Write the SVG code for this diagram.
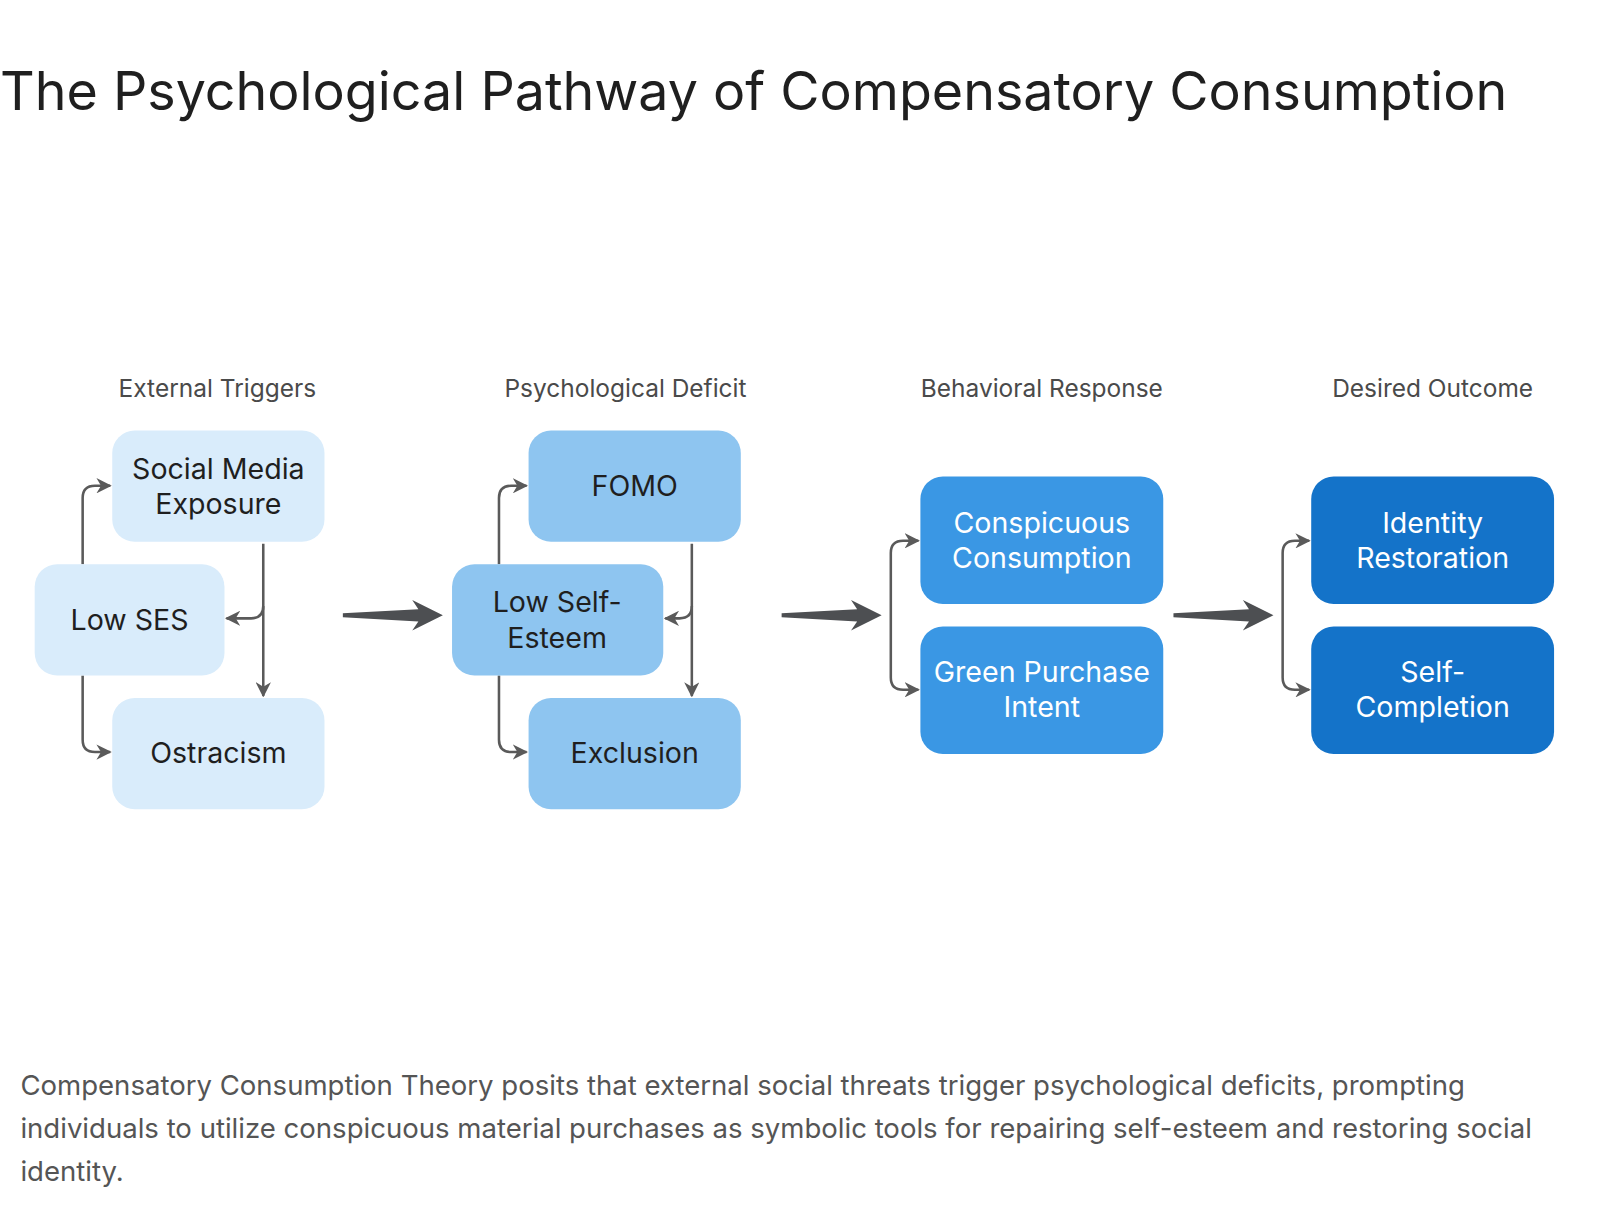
<svg xmlns="http://www.w3.org/2000/svg" width="1600" height="1206" viewBox="0 0 1600 1206">
<defs>
<style>
text{font-family:Inter,"Noto Sans","Liberation Sans",sans-serif}
.t{font-size:52.7px;fill:#1f1f1f}
.h{font-size:24px;fill:#4a4a4a;text-anchor:middle}
.n{font-size:28px;text-anchor:middle}
.d{fill:#1f1f1f}.w{fill:#fff}
.c{font-size:27px;fill:#555}
.l{fill:none;stroke:#5a5a5a;stroke-width:2.5}
.big{fill:#4d4f52}
</style>
<marker id="a" viewBox="0 0 10 10" refX="9" refY="5" markerWidth="6" markerHeight="6" orient="auto-start-reverse"><path d="M0,0 L10,5 L0,10 L3,5z" fill="#5a5a5a"/></marker>
</defs>
<rect width="1600" height="1206" fill="#fff"/>
<g transform="scale(1.0204)">
<text class="t" x="0" y="108">The Psychological Pathway of Compensatory Consumption</text>
<text class="h" x="213" y="389">External Triggers</text>
<text class="h" x="613" y="389">Psychological Deficit</text>
<text class="h" x="1021" y="389">Behavioral Response</text>
<text class="h" x="1404" y="389">Desired Outcome</text>
<g id="connectors">
<path class="l" d="M81,553 V488 Q81,476 93,476 H108" marker-end="url(#a)"/>
<path class="l" d="M81,662 V725 Q81,737 93,737 H108" marker-end="url(#a)"/>
<path class="l" d="M258,533 V594 Q258,606 246,606 H222" marker-end="url(#a)"/>
<path class="l" d="M258,594 Q258,606 258,618 V682" marker-end="url(#a)"/>
<path class="l" d="M489,553 V488 Q489,476 501,476 H516" marker-end="url(#a)"/>
<path class="l" d="M489,662 V725 Q489,737 501,737 H516" marker-end="url(#a)"/>
<path class="l" d="M678,533 V594 Q678,606 666,606 H652" marker-end="url(#a)"/>
<path class="l" d="M678,594 Q678,606 678,618 V682" marker-end="url(#a)"/>
<path class="l" d="M900,530 H885 Q873,530 873,542 V664 Q873,676 885,676 H900" marker-start="url(#a)" marker-end="url(#a)"/>
<path class="l" d="M1283,530 H1269 Q1257,530 1257,542 V664 Q1257,676 1269,676 H1283" marker-start="url(#a)" marker-end="url(#a)"/>
<path class="big" d="M336,601 L410,597 L404,588 L434,603 L404,618 L410,609 L336,605z"/>
<path class="big" d="M766,601 L840,597 L834,588 L864,603 L834,618 L840,609 L766,605z"/>
<path class="big" d="M1150,601 L1224,597 L1218,588 L1248,603 L1218,618 L1224,609 L1150,605z"/>
</g>
<g id="sme"><rect x="110" y="422" width="208" height="109" rx="22" fill="#d9ecfb"/><text class="n d" x="214" y="469">Social Media</text><text class="n d" x="214" y="504">Exposure</text></g>
<g id="ses"><rect x="34" y="553" width="186" height="109" rx="22" fill="#d9ecfb"/><text class="n d" x="127" y="617">Low SES</text></g>
<g id="ost"><rect x="110" y="684" width="208" height="109" rx="22" fill="#d9ecfb"/><text class="n d" x="214" y="748">Ostracism</text></g>
<g id="fomo"><rect x="518" y="422" width="208" height="109" rx="22" fill="#8ec5f0"/><text class="n d" x="622" y="486">FOMO</text></g>
<g id="lse"><rect x="443" y="553" width="207" height="109" rx="22" fill="#8ec5f0"/><text class="n d" x="546" y="600">Low Self-</text><text class="n d" x="546" y="635">Esteem</text></g>
<g id="exc"><rect x="518" y="684" width="208" height="109" rx="22" fill="#8ec5f0"/><text class="n d" x="622" y="748">Exclusion</text></g>
<g id="cc"><rect x="902" y="467" width="238" height="125" rx="22" fill="#3a97e4"/><text class="n w" x="1021" y="522">Conspicuous</text><text class="n w" x="1021" y="557">Consumption</text></g>
<g id="gpi"><rect x="902" y="614" width="238" height="125" rx="22" fill="#3a97e4"/><text class="n w" x="1021" y="668">Green Purchase</text><text class="n w" x="1021" y="703">Intent</text></g>
<g id="ir"><rect x="1285" y="467" width="238" height="125" rx="22" fill="#1473c9"/><text class="n w" x="1404" y="522">Identity</text><text class="n w" x="1404" y="557">Restoration</text></g>
<g id="sc"><rect x="1285" y="614" width="238" height="125" rx="22" fill="#1473c9"/><text class="n w" x="1404" y="668">Self-</text><text class="n w" x="1404" y="703">Completion</text></g>
<text class="c" x="20" y="1073">Compensatory Consumption Theory posits that external social threats trigger psychological deficits, prompting</text>
<text class="c" x="20" y="1115">individuals to utilize conspicuous material purchases as symbolic tools for repairing self-esteem and restoring social</text>
<text class="c" x="20" y="1157">identity.</text>
</g>
</svg>
